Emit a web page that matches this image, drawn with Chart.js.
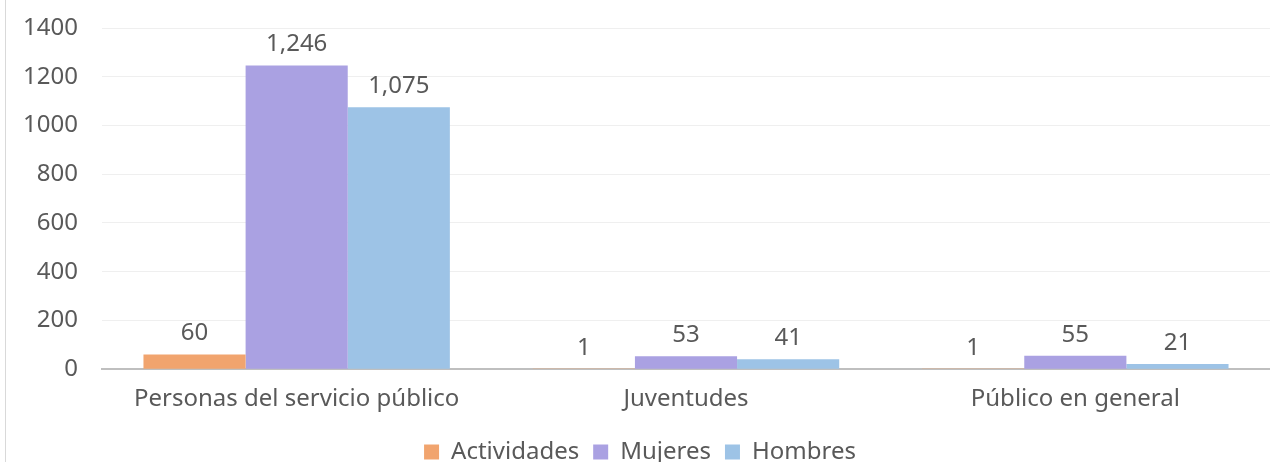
<!DOCTYPE html>
<html>
<head>
<meta charset="utf-8">
<script src="https://cdn.jsdelivr.net/npm/chart.js@4"></script>
<style>
  html, body { margin: 0; padding: 0; background: #fff; overflow: hidden; }
  .wrap { position: relative; width: 1270px; height: 462px; }
</style>
</head>
<body>
<div class="wrap"><canvas id="chart" width="1270" height="462"></canvas></div>
<script>
const categories = ['Personas del servicio público', 'Juventudes', 'Público en general']
const actividades = [60, 1, 1]
const mujeres = [1246, 53, 55]
const hombres = [1075, 41, 21]
const yTicks = [0, 200, 400, 600, 800, 1000, 1200, 1400]

const textColor = '#595959'
const fontFamily = '"Noto Sans", Lato, sans-serif'

// value labels above each bar, with thousands separator
const valueLabels = {
  id: 'valueLabels',
  afterDatasetsDraw (chart) {
    const ctx = chart.ctx
    ctx.save()
    ctx.fillStyle = textColor
    ctx.font = '24px ' + fontFamily
    ctx.textAlign = 'center'
    ctx.textBaseline = 'bottom'
    chart.data.datasets.forEach((ds, i) => {
      chart.getDatasetMeta(i).data.forEach((bar, j) => {
        const text = ds.data[j].toLocaleString('en-US')
        ctx.fillText(text, bar.x, bar.y - 9)
      })
    })
    ctx.restore()
  }
}

// thin frame line on the left edge
const leftEdge = {
  id: 'leftEdge',
  beforeDraw (chart) {
    const ctx = chart.ctx
    ctx.save()
    ctx.strokeStyle = '#d9d9d9'
    ctx.lineWidth = 1
    ctx.beginPath()
    ctx.moveTo(5.5, 0)
    ctx.lineTo(5.5, chart.height)
    ctx.stroke()
    ctx.restore()
  }
}

const data = {
  labels: categories,
  datasets: [
    { label: 'Actividades', data: actividades, backgroundColor: '#F1A46E' },
    { label: 'Mujeres', data: mujeres, backgroundColor: '#AAA1E2' },
    { label: 'Hombres', data: hombres, backgroundColor: '#9DC3E6' }
  ]
}

const options = {
  responsive: false,
  animation: false,
  layout: {
    padding: { top: 28, left: 0, right: -10, bottom: -12 }
  },
  datasets: {
    bar: { categoryPercentage: 0.787, barPercentage: 1 }
  },
  plugins: {
    tooltip: { enabled: false },
    legend: {
      position: 'bottom',
      labels: {
        color: textColor,
        boxWidth: 15,
        boxHeight: 15,
        padding: 14,
        font: { size: 24, family: fontFamily }
      }
    }
  },
  scales: {
    x: {
      grid: { display: false, drawTicks: false },
      border: { color: '#bfbfbf', width: 2 },
      afterFit (scale) {
        scale.height -= 4
      },
      ticks: {
        color: textColor,
        padding: 16,
        font: { size: 24, family: fontFamily }
      }
    },
    y: {
      min: 0,
      max: 1400,
      afterBuildTicks (scale) {
        scale.ticks = yTicks.map(v => ({ value: v }))
      },
      afterFit (scale) {
        scale.width = 102
        scale.paddingTop = 0
        scale.paddingBottom = 0
      },
      grid: { color: '#efefef', drawTicks: false },
      border: { display: false },
      ticks: {
        color: textColor,
        padding: 24,
        callback: v => String(v),
        font: { size: 24, family: fontFamily }
      }
    }
  }
}

new Chart(document.querySelector('#chart'), {
  type: 'bar',
  data,
  options,
  plugins: [valueLabels, leftEdge]
})
</script>
</body>
</html>
